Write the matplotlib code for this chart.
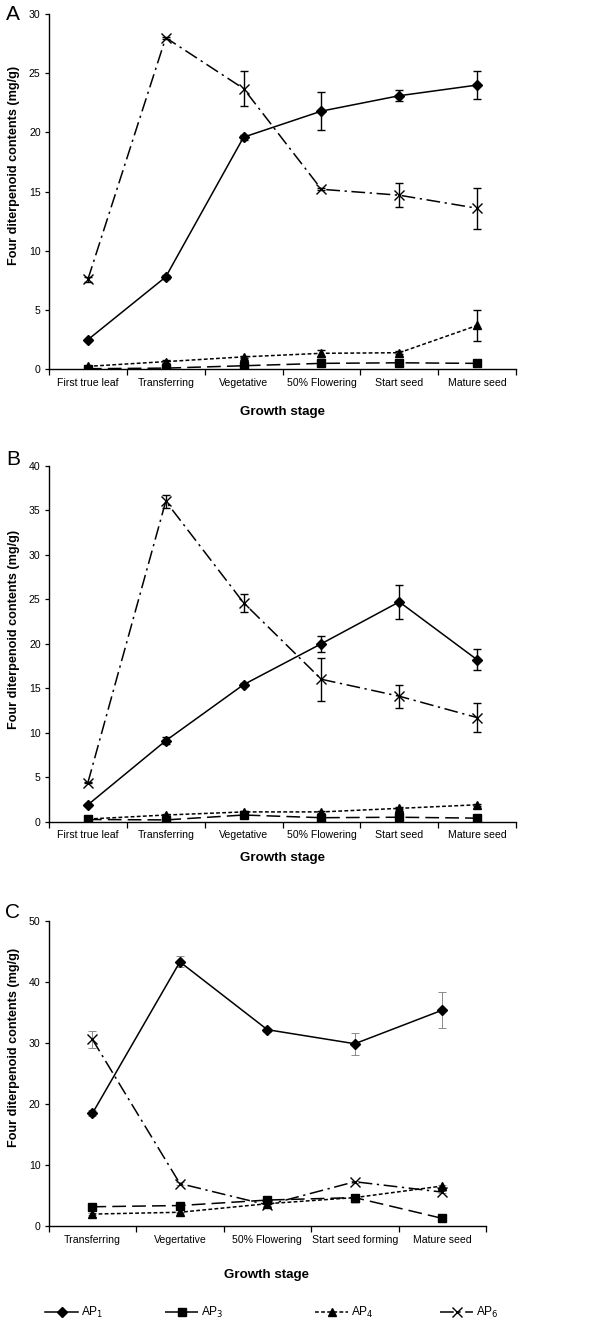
import matplotlib
matplotlib.use("Agg")
import matplotlib.pyplot as plt
import numpy as np

plt.rcParams["font.family"] = ["Liberation Sans", "DejaVu Sans"]

# panel A and B categories
stages_ab = ["First true leaf", "Transferring", "Vegetative", "50% Flowering",
             "Start seed", "Mature seed"]
stages_c = ["Transferring", "Vegertative", "50% Flowering", "Start seed forming",
            "Mature seed"]

# Panel A
a_ap1 = [2.5, 7.8, 19.6, 21.8, 23.1, 24.0]
a_ap1_err = [0.1, 0.15, 0.2, 1.6, 0.45, 1.15]
a_ap3 = [0.05, 0.1, 0.3, 0.5, 0.55, 0.5]
a_ap3_err = [0.05, 0.05, 0.05, 0.1, 0.1, 0.05]
a_ap4 = [0.25, 0.65, 1.05, 1.35, 1.4, 3.7]
a_ap4_err = [0.05, 0.1, 0.1, 0.3, 0.15, 1.3]
a_ap6 = [7.6, 28.0, 23.7, 15.2, 14.7, 13.6]
a_ap6_err = [0.2, 0.1, 1.5, 0.1, 1.0, 1.75]

# Panel B
b_ap1 = [1.9, 9.1, 15.4, 20.0, 24.7, 18.2]
b_ap1_err = [0.1, 0.4, 0.2, 0.9, 1.9, 1.2]
b_ap3 = [0.25, 0.2, 0.75, 0.45, 0.5, 0.4]
b_ap3_err = [0.05, 0.05, 0.05, 0.05, 0.05, 0.05]
b_ap4 = [0.3, 0.75, 1.1, 1.1, 1.5, 1.9]
b_ap4_err = [0.05, 0.1, 0.1, 0.1, 0.1, 0.1]
b_ap6 = [4.4, 36.0, 24.6, 16.0, 14.1, 11.7]
b_ap6_err = [0.1, 0.75, 1.0, 2.4, 1.3, 1.6]

# Panel C
c_ap1 = [18.5, 43.3, 32.2, 29.9, 35.4]
c_ap1_err = [0.5, 0.9, 0.3, 1.8, 2.95]
c_ap3 = [3.2, 3.4, 4.3, 4.7, 1.3]
c_ap3_err = [0.2, 0.2, 0.2, 0.2, 0.1]
c_ap4 = [2.0, 2.3, 3.7, 4.7, 6.6]
c_ap4_err = [0.1, 0.1, 0.1, 0.1, 0.1]
c_ap6 = [30.6, 7.0, 3.5, 7.3, 5.6]
c_ap6_err = [1.4, 0.2, 0.2, 0.2, 0.2]

series_style = {
    "AP1": dict(marker="D", ms=5.3, dashes=None),
    "AP3": dict(marker="s", ms=5.5, dashes=(9, 4)),
    "AP4": dict(marker="^", ms=5.5, dashes=(2.5, 1.5)),
    "AP6": dict(marker="x", ms=7, dashes=(9, 3, 1.5, 3)),
}
labels = {"AP1": r"AP$_{1}$", "AP3": r"AP$_{3}$", "AP4": r"AP$_{4}$", "AP6": r"AP$_{6}$"}


def draw_panel(ax, stages, data, ymax, ystep, label_xy, err_color="black"):
    x = np.arange(len(stages))
    handles = []
    thin = err_color != "black"
    for key, (vals, errs) in data.items():
        st = series_style[key]
        ax.errorbar(x, vals, yerr=errs, fmt="none", ecolor=err_color,
                    elinewidth=0.7 if thin else 1.0,
                    capsize=2.7, capthick=0.7 if thin else 1.0, zorder=2)
        kw = dict(color="black", marker=st["marker"], markersize=st["ms"],
                  linewidth=1.1, mew=1.0, zorder=3, label=labels[key])
        if st["dashes"] is None:
            (ln,) = ax.plot(x, vals, "-", **kw)
        else:
            (ln,) = ax.plot(x, vals, "--", dashes=st["dashes"], **kw)
        handles.append(ln)
    ax.set_xlim(-0.5, len(stages) - 0.5)
    ax.set_ylim(0, ymax)
    ax.set_yticks(np.arange(0, ymax + 0.1, ystep))
    ax.set_xticks(np.arange(-0.5, len(stages)), minor=False)
    ax.set_xticklabels([])
    ax.set_xticks(x, minor=True)
    ax.set_xticklabels(stages, minor=True, fontsize=7.6)
    ax.tick_params(axis="x", which="minor", length=0, pad=6)
    ax.tick_params(axis="x", which="major", length=4, width=0.9, direction="out")
    ax.tick_params(axis="y", length=3, width=0.9, labelsize=7.6, pad=3)
    for s in ["top", "right"]:
        ax.spines[s].set_visible(False)
    for s in ["left", "bottom"]:
        ax.spines[s].set_linewidth(1.0)
    ax.set_ylabel("Four diterpenoid contents (mg/g)", fontsize=9.1,
                  fontweight="bold")
    ax.yaxis.set_label_coords(*label_xy)
    return handles


fig = plt.figure(figsize=(6.0, 13.19), dpi=100)
H = 1319.0
W = 600.0


def axes_px(left, top, right, bottom):
    return fig.add_axes([left / W, 1 - bottom / H, (right - left) / W, (bottom - top) / H])


axA = axes_px(49, 14, 516, 369.3)
hA = draw_panel(axA, stages_ab, {
    "AP1": (a_ap1, a_ap1_err), "AP3": (a_ap3, a_ap3_err),
    "AP4": (a_ap4, a_ap4_err), "AP6": (a_ap6, a_ap6_err)}, 30, 5, (-0.062, 0.575))

axB = axes_px(49, 465.7, 516, 821.7)
draw_panel(axB, stages_ab, {
    "AP1": (b_ap1, b_ap1_err), "AP3": (b_ap3, b_ap3_err),
    "AP4": (b_ap4, b_ap4_err), "AP6": (b_ap6, b_ap6_err)}, 40, 5, (-0.062, 0.54))

axC = axes_px(48.7, 921, 486, 1226.3)
draw_panel(axC, stages_c, {
    "AP1": (c_ap1, c_ap1_err), "AP3": (c_ap3, c_ap3_err),
    "AP4": (c_ap4, c_ap4_err), "AP6": (c_ap6, c_ap6_err)}, 50, 10, (-0.066, 0.585),
    err_color="#8a8a8a")

# x labels and panel letters
for ypx, xpx in [(411.7, 283), (858, 283), (1275, 267)]:
    fig.text(xpx / W, 1 - ypx / H, "Growth stage", ha="center", va="center",
             fontsize=9.6, fontweight="bold")
for letter, ypx in [("A", 14), ("B", 459), ("C", 913)]:
    fig.text(13 / W, 1 - ypx / H, letter, ha="center", va="center", fontsize=15)

# legend: one entry per slot along the bottom
for h, xpx in zip(hA, [45, 165, 315, 440]):
    fig.legend(handles=[h], loc="center left",
               bbox_to_anchor=(xpx / W, 1 - 1312.7 / H), frameon=False,
               fontsize=8.6, handlelength=2.8, handletextpad=0.2,
               borderpad=0, borderaxespad=0)

fig.savefig("out.png", dpi=100)
